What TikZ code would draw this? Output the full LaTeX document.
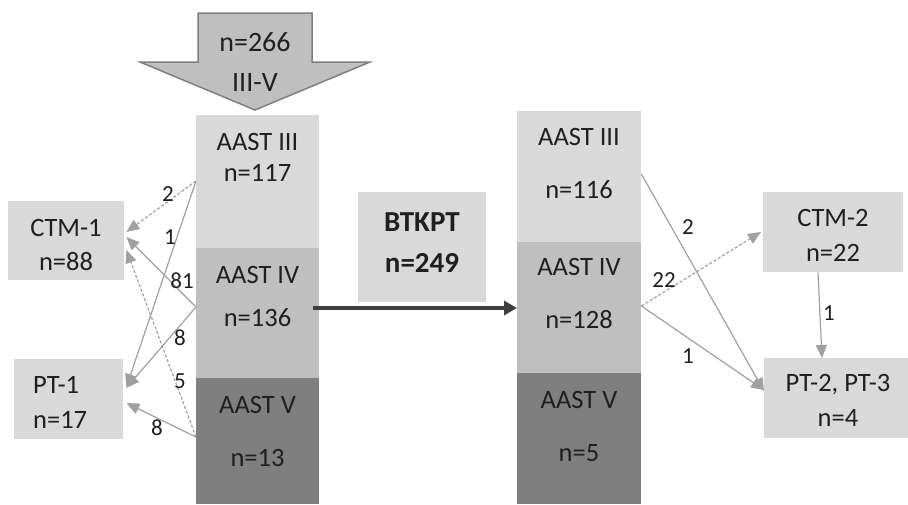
\documentclass[tikz,border=0pt]{standalone}
\usepackage{fontspec}
\setmainfont{Carlito}
\usetikzlibrary{arrows.meta,calc}
\definecolor{lt}{HTML}{D9D9D9}
\definecolor{md}{HTML}{BFBFBF}
\definecolor{dk}{HTML}{7F7F7F}
\definecolor{ar}{HTML}{A0A0A0}
\definecolor{tx}{HTML}{1F1F1F}
\definecolor{thick}{HTML}{404040}
\begin{document}
\begin{tikzpicture}[x=1pt,y=-1pt,
  box/.style={draw=none, inner sep=0pt, anchor=north west},
  txt/.style={inner sep=0pt, text=tx, text height=17pt, text depth=0pt, font=\fontsize{26.5}{30}\selectfont},
  bigtxt/.style={txt, text height=18pt, font=\fontsize{28}{32}\selectfont},
  boldtxt/.style={txt, text height=18.7pt, font=\fontsize{29}{33}\selectfont\bfseries},
  lab/.style={inner sep=0pt, text=tx, text height=14.8pt, text depth=0pt, font=\fontsize{23}{27}\selectfont},
  flow/.style={draw=ar, line width=1.2pt, -{Triangle[length=13pt,width=11pt]}},
  flowd/.style={flow, dash pattern=on 3pt off 2pt},
  bigflow/.style={draw=thick, line width=4.5pt, -{Triangle[length=13pt,width=14pt]}}]
\useasboundingbox (0,0) rectangle (908,504);

% top arrow
\draw[fill=md, draw=dk, line width=1.5pt] (198,13) -- (312,13) -- (312,62) -- (370,62) -- (255,110) -- (140,62) -- (198,62) -- cycle;
\node[bigtxt] (topa) at (255,42) {n=266};
\node[bigtxt] (topb) at (255,82) {III-V};

% left column
\node[box, fill=lt, minimum width=123pt, minimum height=133pt] (L3) at (196,115) {};
\node[box, fill=md, minimum width=123pt, minimum height=130pt] (L4) at (196,248) {};
\node[box, fill=dk, minimum width=123pt, minimum height=126pt] (L5) at (196,378) {};
\node[txt] (L3a) at (257.5,142) {AAST III};
\node[txt] (L3b) at (257.5,173) {n=117};
\node[txt] (L4a) at (257.5,275) {AAST IV};
\node[txt] (L4b) at (257.5,318) {n=136};
\node[txt] (L5a) at (257.5,405) {AAST V};
\node[txt] (L5b) at (257.5,458) {n=13};

% right column
\node[box, fill=lt, minimum width=124pt, minimum height=131pt] (R3) at (517,111) {};
\node[box, fill=md, minimum width=124pt, minimum height=131pt] (R4) at (517,242) {};
\node[box, fill=dk, minimum width=124pt, minimum height=131pt] (R5) at (517,373) {};
\node[txt] (R3a) at (579,137) {AAST III};
\node[txt] (R3b) at (579,190) {n=116};
\node[txt] (R4a) at (579,267) {AAST IV};
\node[txt] (R4b) at (579,320) {n=128};
\node[txt] (R5a) at (579,400) {AAST V};
\node[txt] (R5b) at (579,453) {n=5};

% side boxes
\node[box, fill=lt, minimum width=116pt, minimum height=79pt] (C1) at (8,201) {};
\node[txt] (C1a) at (66,228) {CTM-1};
\node[txt] (C1b) at (66,262) {n=88};
\node[box, fill=lt, minimum width=109pt, minimum height=80pt] (P1) at (14,359) {};
\node[txt, anchor=west] (P1a) at (33,385) {PT-1};
\node[txt, anchor=west] (P1b) at (33,420) {n=17};

\node[box, fill=lt, minimum width=128pt, minimum height=110pt] (B) at (358,192) {};
\node[boldtxt] (Ba) at (422,222) {BTKPT};
\node[boldtxt] (Bb) at (422,263) {n=249};

\node[box, fill=lt, minimum width=140pt, minimum height=80pt] (C2) at (763,192) {};
\node[txt] (C2a) at (833,218) {CTM-2};
\node[txt] (C2b) at (833,253) {n=22};
\node[box, fill=lt, minimum width=144pt, minimum height=80pt] (P2) at (764,358) {};
\node[txt] (P2a) at (838,383) {PT-2, PT-3};
\node[txt] (P2b) at (838,418) {n=4};

% left connectors
\coordinate (s3) at ($(L3.north west)+(0,66)$);
\coordinate (s4) at ($(L4.north west)+(0,59)$);
\coordinate (s5) at ($(L5.north west)+(0,59)$);
\draw[flowd] (s3) -- ($(C1.north east)+(2,31)$);
\draw[flow] (s3) -- ($(P1.north east)+(3,28)$);
\draw[flow] (s4) -- ($(C1.north east)+(2,36)$);
\draw[flow] (s4) -- ($(P1.north east)+(3,29)$);
\draw[flowd] (s5) -- ($(C1.north east)+(2,49)$);
\draw[flow] (s5) -- ($(P1.north east)+(3,44)$);
\node[lab] (l1) at (168,194) {2};
\node[lab] (l2) at (170,237) {1};
\node[lab] (l3) at (182,281) {81};
\node[lab] (l4) at (180,338) {8};
\node[lab] (l5) at (180,381) {5};
\node[lab] (l6) at (157,428) {8};

% main arrow
\draw[bigflow] ($(L4.north east)+(-6,60)$) -- ($(R4.north west)+(0,66)$);

% right connectors
\draw[flow] ($(R3.north east)+(0,63)$) -- ($(P2.north west)+(0,33)$);
\draw[flowd] ($(R4.north east)+(0,64)$) -- ($(C2.north west)+(-2,40)$);
\draw[flow] ($(R4.north east)+(0,64)$) -- ($(P2.north west)+(0,32)$);
\draw[flow] ($(C2.south west)+(55,0)$) -- ($(P2.north west)+(58,0)$);
\node[lab] (r1) at (688,227) {2};
\node[lab] (r2) at (664,280) {22};
\node[lab] (r3) at (688,356) {1};
\node[lab] (r4) at (829,313) {1};
\end{tikzpicture}
\end{document}
